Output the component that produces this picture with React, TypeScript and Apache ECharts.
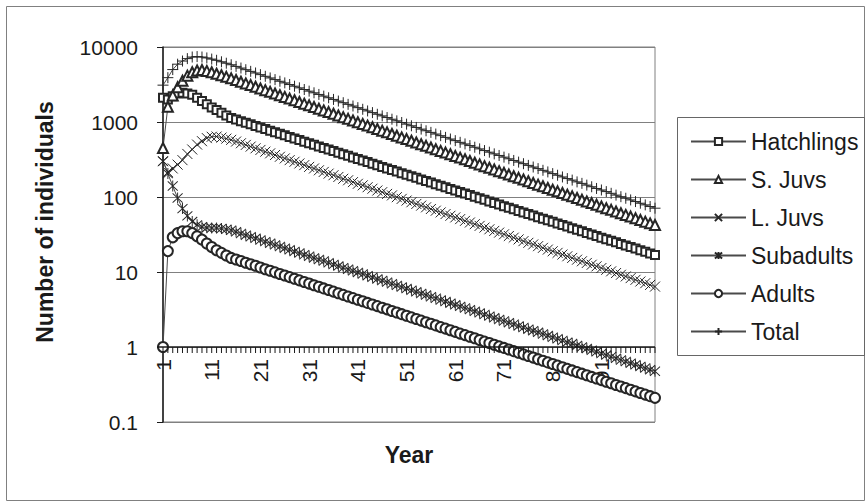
import React, { useEffect, useRef } from 'react';
import * as echarts from 'echarts';

const years: string[] = Array.from({ length: 102 }, (_, i) => String(i + 1));

const hatchlings = [
  2100, 2000, 2200, 2400, 2450, 2400, 2300, 2100, 1900, 1720, 1560, 1440, 1330, 1220, 1130,
  1077, 1026, 977, 931, 887, 845, 805, 767, 731, 697, 664, 632, 603, 574, 547,
  521, 497, 473, 451, 430, 409, 390, 372, 354, 337, 321, 306, 292, 278, 265,
  252, 240, 229, 218, 208, 198, 189, 180, 171, 163, 156, 148, 141, 135, 128,
  122, 117, 111, 106, 101, 96, 91.6, 87.3, 83.2, 79.3, 75.5, 72.0, 68.6, 65.3, 62.3,
  59.3, 56.5, 53.9, 51.3, 48.9, 46.6, 44.4, 42.3, 40.3, 38.4, 36.6, 34.9, 33.2, 31.7, 30.2,
  28.7, 27.4, 26.1, 24.9, 23.7, 22.6, 21.5, 20.5, 19.5, 18.6, 17.7, 16.9,
];

const sJuvs = [
  450, 1600, 2250, 2900, 3550, 4150, 4600, 4850, 4930, 4800, 4600, 4400, 4200, 4000, 3820,
  3627, 3444, 3270, 3105, 2948, 2799, 2658, 2524, 2396, 2275, 2160, 2051, 1948, 1849, 1756,
  1667, 1583, 1503, 1427, 1355, 1287, 1222, 1160, 1102, 1046, 993, 943, 895, 850, 807,
  767, 728, 691, 656, 623, 592, 562, 533, 506, 481, 457, 434, 412, 391, 371,
  352, 335, 318, 302, 286, 272, 258, 245, 233, 221, 210, 199, 189, 180, 171,
  162, 154, 146, 139, 132, 125, 119, 113, 107, 102, 96.8, 91.9, 87.3, 82.9, 78.7,
  74.7, 70.9, 67.4, 64.0, 60.7, 57.7, 54.8, 52.0, 49.4, 46.9, 44.5, 42.3,
];

const lJuvs = [
  300, 215, 240, 270, 310, 375, 430, 500, 555, 610, 635, 640, 620, 600, 578,
  549, 521, 495, 470, 446, 424, 402, 382, 363, 344, 327, 310, 295, 280, 266,
  252, 240, 227, 216, 205, 195, 185, 175, 167, 158, 150, 143, 135, 129, 122,
  116, 110, 105, 99.4, 94.4, 89.6, 85.1, 80.8, 76.7, 72.8, 69.2, 65.7, 62.3, 59.2, 56.2,
  53.4, 50.7, 48.1, 45.7, 43.4, 41.2, 39.1, 37.1, 35.3, 33.5, 31.8, 30.2, 28.7, 27.2, 25.8,
  24.5, 23.3, 22.1, 21.0, 19.9, 18.9, 18.0, 17.1, 16.2, 15.4, 14.6, 13.9, 13.2, 12.5, 11.9,
  11.3, 10.7, 10.2, 9.68, 9.19, 8.73, 8.29, 7.87, 7.47, 7.09, 6.73, 6.39,
];

const subadults = [
  300, 205, 140, 97, 70, 56, 47, 42.5, 40, 39, 38.5, 38.5, 38, 37, 36.0,
  34.3, 32.6, 31.0, 29.5, 28.1, 26.7, 25.4, 24.2, 23.0, 21.9, 20.8, 19.8, 18.8, 17.9, 17.0,
  16.2, 15.4, 14.7, 14.0, 13.3, 12.6, 12.0, 11.4, 10.9, 10.4, 9.87, 9.39, 8.94, 8.50, 8.09,
  7.70, 7.33, 6.97, 6.63, 6.31, 6.01, 5.71, 5.44, 5.17, 4.92, 4.68, 4.46, 4.24, 4.03, 3.84,
  3.65, 3.48, 3.31, 3.15, 2.99, 2.85, 2.71, 2.58, 2.45, 2.33, 2.22, 2.11, 2.01, 1.91, 1.82,
  1.73, 1.65, 1.57, 1.49, 1.42, 1.35, 1.29, 1.22, 1.16, 1.11, 1.05, 1.00, 0.952, 0.906, 0.862,
  0.820, 0.780, 0.742, 0.706, 0.672, 0.640, 0.609, 0.579, 0.551, 0.524, 0.499, 0.475,
];

const adults = [
  1, 19, 29, 33, 35, 35, 33, 30, 27, 24, 21.5, 19.5, 18, 16.6, 15.4,
  14.7, 14.0, 13.3, 12.7, 12.1, 11.5, 10.9, 10.4, 9.90, 9.42, 8.97, 8.54, 8.13, 7.74, 7.36,
  7.01, 6.67, 6.35, 6.04, 5.75, 5.47, 5.21, 4.96, 4.72, 4.49, 4.27, 4.07, 3.87, 3.68, 3.51,
  3.34, 3.18, 3.02, 2.88, 2.74, 2.61, 2.48, 2.36, 2.25, 2.14, 2.04, 1.94, 1.84, 1.76, 1.67,
  1.59, 1.51, 1.44, 1.37, 1.31, 1.24, 1.18, 1.13, 1.07, 1.02, 0.972, 0.925, 0.880, 0.838, 0.798,
  0.759, 0.723, 0.688, 0.655, 0.623, 0.593, 0.565, 0.537, 0.511, 0.487, 0.463, 0.441, 0.420, 0.399, 0.380,
  0.362, 0.344, 0.328, 0.312, 0.297, 0.283, 0.269, 0.256, 0.244, 0.232, 0.221, 0.210,
];

const total = [
  3100, 3900, 5000, 5900, 6500, 7000, 7350, 7450, 7350, 7150, 6900, 6650, 6350, 6080, 5800,
  5513, 5241, 4982, 4736, 4502, 4280, 4068, 3867, 3676, 3494, 3322, 3158, 3002, 2853, 2712,
  2578, 2451, 2330, 2215, 2105, 2001, 1902, 1808, 1719, 1634, 1553, 1477, 1404, 1334, 1268,
  1206, 1146, 1090, 1036, 985, 936, 890, 846, 804, 764, 727, 691, 657, 624, 593,
  564, 536, 510, 485, 461, 438, 416, 396, 376, 358, 340, 323, 307, 292, 278,
  264, 251, 239, 227, 216, 205, 195, 185, 176, 168, 159, 152, 144, 137, 130,
  124, 118, 112, 106, 101, 96.2, 91.4, 86.9, 82.6, 78.5, 74.6, 70.9,
];

const seriesNames = ['Hatchlings', 'S. Juvs', 'L. Juvs', 'Subadults', 'Adults', 'Total'];
const yMin = 0.1;
const yMax = 10000;
const xCrossAt = 1;
const xLabelEvery = 10;
const xTitle = 'Year';
const yTitle = 'Number of individuals';

const FONT = '"Liberation Sans", Arial, Helvetica, sans-serif';
const INK = '#1a1a1a';

const SYM_X = 'path://M0,0L10,10M10,0L0,10';
const SYM_STAR = 'path://M0,0L10,10M10,0L0,10M5,-1L5,11';
const SYM_PLUS = 'path://M5,0L5,10M0,5L10,5';

function mk(name: string, data: number[], symbol: string, size: number | number[]) {
  return {
    name,
    type: 'line',
    xAxisIndex: 0,
    yAxisIndex: 0,
    data,
    symbol,
    symbolSize: size,
    showAllSymbol: true,
    z: 3,
    lineStyle: { color: '#4a4a4a', width: 1 },
    itemStyle: { color: '#262626', borderColor: '#262626', borderWidth: 1 },
    emphasis: { disabled: true },
  };
}

const staticGraphics: any[] = [
  {
    type: 'rect',
    silent: true,
    shape: { x: 6.5, y: 6.5, width: 858, height: 494 },
    style: { fill: 'none', stroke: '#808080', lineWidth: 1 },
  },
  {
    type: 'rect',
    silent: true,
    shape: { x: 677.5, y: 117.5, width: 187, height: 238 },
    style: { fill: 'none', stroke: '#666666', lineWidth: 1 },
  },
  {
    type: 'text',
    silent: true,
    x: 45,
    y: 222,
    rotation: Math.PI / 2,
    style: {
      text: yTitle,
      fontSize: 23,
      fontWeight: 'bold',
      fontFamily: FONT,
      fill: INK,
      align: 'center',
      verticalAlign: 'middle',
    },
  },
];

export default function App() {
  const ref = useRef<HTMLDivElement>(null);
  useEffect(() => {
    if (!ref.current) return;
    const chart = echarts.init(ref.current, null, { renderer: 'svg' });
    const option: any = {
      animation: false,
      backgroundColor: '#ffffff',
      textStyle: { fontFamily: FONT },
      grid: [
        {
          left: 163,
          top: 47,
          width: 492,
          height: 375,
          show: true,
          borderColor: '#808080',
          borderWidth: 1,
          backgroundColor: 'transparent',
        },
        {
          left: 163,
          top: 47,
          width: 492,
          height: 300,
          show: false,
        },
      ],
      xAxis: [
        {
          gridIndex: 0,
          type: 'category',
          data: years,
          boundaryGap: false,
          show: false,
        },
        {
          gridIndex: 1,
          type: 'category',
          data: years,
          boundaryGap: false,
          position: 'bottom',
          axisLine: { show: false, onZero: false },
          axisTick: { show: false },
          axisLabel: {
            show: true,
            interval: xLabelEvery - 1,
            rotate: 90,
            fontSize: 21,
            color: INK,
            margin: 12,
            fontFamily: FONT,
            showMaxLabel: false,
          },
          splitLine: { show: false },
          name: xTitle,
          nameLocation: 'middle',
          nameGap: 96,
          nameTextStyle: { fontSize: 23, fontWeight: 'bold', color: INK, fontFamily: FONT },
        },
      ],
      yAxis: [
        {
          gridIndex: 0,
          type: 'log',
          logBase: 10,
          min: yMin,
          max: yMax,
          axisLine: { show: true, onZero: false, lineStyle: { color: INK, width: 1.5 } },
          axisTick: { show: true, length: 6, lineStyle: { color: INK, width: 1 } },
          axisLabel: {
            fontSize: 21,
            color: INK,
            margin: 25,
            fontFamily: FONT,
            formatter: (v: number) => (v < 1 ? Number(v).toFixed(1) : String(Math.round(v))),
          },
          splitLine: { show: true, lineStyle: { color: '#808080', width: 1 } },
        },
        {
          gridIndex: 1,
          type: 'value',
          min: 0,
          max: 1,
          show: false,
        },
      ],
      legend: {
        orient: 'vertical',
        left: 685,
        top: 125,
        itemWidth: 55,
        itemHeight: 9,
        itemGap: 15,
        selectedMode: false,
        data: seriesNames,
        textStyle: { fontSize: 23, color: INK, fontFamily: FONT },
      },
      graphic: staticGraphics,
      series: [
        mk(seriesNames[0], hatchlings, 'emptyRect', 8),
        mk(seriesNames[1], sJuvs, 'emptyTriangle', 10),
        mk(seriesNames[2], lJuvs, SYM_X, 10),
        mk(seriesNames[3], subadults, SYM_STAR, [10, 11]),
        mk(seriesNames[4], adults, 'emptyCircle', 10),
        mk(seriesNames[5], total, SYM_PLUS, 11),
      ],
    };
    chart.setOption(option);

    // Category axis crossing the log axis at y = xCrossAt: positions from the chart's own scales.
    const pts = years.map((_, i) => chart.convertToPixel({ gridIndex: 0 }, [i, xCrossAt]) as number[]);
    const axisEls: any[] = [];
    if (pts.length && pts[0] && isFinite(pts[0][1])) {
      const first = pts[0];
      const last = pts[pts.length - 1];
      axisEls.push({
        type: 'line',
        silent: true,
        z: 50,
        shape: { x1: first[0] - 6, y1: first[1], x2: last[0], y2: last[1] },
        style: { stroke: INK, lineWidth: 1.5 },
      });
      pts.forEach((p) => {
        axisEls.push({
          type: 'line',
          silent: true,
          z: 50,
          shape: { x1: p[0], y1: p[1], x2: p[0], y2: p[1] + 6 },
          style: { stroke: INK, lineWidth: 1 },
        });
      });
    }
    chart.setOption({ graphic: [...staticGraphics, ...axisEls] });

    return () => {
      chart.dispose();
    };
  }, []);
  return (
    <div
      ref={ref}
      style={{ position: 'absolute', left: 0, top: 0, width: 867, height: 503, background: '#fff' }}
    />
  );
}
